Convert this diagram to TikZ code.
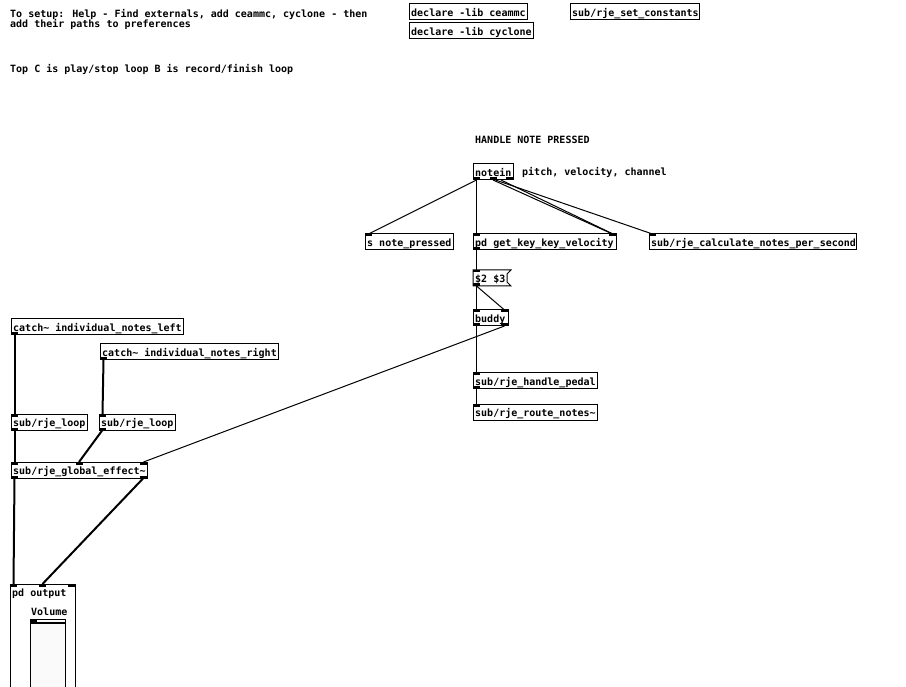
\documentclass[tikz,border=0pt]{standalone}
\usepackage{fontspec}
\newfontfamily\pdfont{DejaVu Sans Mono}
\usetikzlibrary{calc}
\newcommand\pdobject[5]{\node[pdbox, minimum width=#4pt] (#1) at (#2,#3) {};\node[pdtxt] at ($(#1.north west)+(2,12.6)$) {#5};}
\newcommand\pdin[2]{\fill ([xshift=#2pt]#1.north west) rectangle ++(7,2.5);}
\newcommand\pdout[2]{\fill ([xshift=#2pt]#1.south west) rectangle ++(7,-2.5);}
\newcommand\pdcon[5]{\draw[#1] ([xshift=#3pt+3.5pt]#2.south west) -- ([xshift=#5pt+3.5pt]#4.north west);}
\begin{document}
\begin{tikzpicture}[x=1pt,y=-1pt,
  pdbox/.style={draw, line width=1pt, anchor=north west, minimum height=16pt, inner sep=0pt, outer sep=0pt},
  pdtxt/.style={anchor=base west, inner sep=0pt, font=\pdfont\bfseries\fontsize{10}{12}\selectfont},
  ctl/.style={line width=1pt},
  sig/.style={line width=2pt}]
\fill[white] (0,0) rectangle (906,687);
\useasboundingbox (0,0) rectangle (906,687);
\clip (0,0) rectangle (906,687);
% comments
\node[pdtxt] (c1) at (10,17.8) {To setup: Help - Find externals, add ceammc, cyclone - then};
\node[pdtxt] (c2) at (10,28) {add their paths to preferences};
\node[pdtxt] (c3) at (10,72.3) {Top C is play/stop loop B is record/finish loop};
\node[pdtxt] (c4) at (475,143.8) {HANDLE NOTE PRESSED};
\node[pdtxt] (c5) at (522,175.8) {pitch, velocity, channel};
% objects
\pdobject{dc1}{409}{4}{118}{declare -lib ceammc}
\pdobject{dc2}{409}{23}{124}{declare -lib cyclone}
\pdobject{setc}{570}{4}{129}{sub/rje\_set\_constants}
\pdobject{notein}{473}{164}{40}{notein}
\pdout{notein}{0}\pdout{notein}{16.5}\pdout{notein}{33}
\pdobject{snp}{365}{234}{88}{s note\_pressed}
\pdin{snp}{0}
\pdobject{getkey}{473}{234}{143}{pd get\_key\_key\_velocity}
\pdin{getkey}{0}\pdin{getkey}{136}\pdout{getkey}{0}
\pdobject{calc}{649}{234}{207}{sub/rje\_calculate\_notes\_per\_second}
\pdin{calc}{0}
% message box
\node[anchor=north west, minimum width=34pt, minimum height=16pt, inner sep=0pt, outer sep=0pt] (msg) at (473,270) {};
\draw[line width=1pt] (msg.north west) -- ++(38,0) -- ++(-4,4) -- ++(0,8) -- ++(4,4) -- (msg.south west) -- cycle;
\node[pdtxt] at ($(msg.north west)+(2,12.6)$) {\$2 \$3};
\pdin{msg}{0}\pdout{msg}{0}
\pdobject{buddy}{473}{310}{35}{buddy}
\pdin{buddy}{0}\pdin{buddy}{28}\pdout{buddy}{0}\pdout{buddy}{28}
\pdobject{pedal}{473}{373}{124}{sub/rje\_handle\_pedal}
\pdin{pedal}{0}\pdout{pedal}{0}
\pdobject{route}{473}{404}{124}{sub/rje\_route\_notes\textasciitilde}
\pdin{route}{0}
\pdobject{catchL}{11}{319}{172}{catch\textasciitilde{} individual\_notes\_left}
\pdout{catchL}{0}
\pdobject{catchR}{100}{344}{178}{catch\textasciitilde{} individual\_notes\_right}
\pdout{catchR}{0}
\pdobject{loopL}{11}{414}{76}{sub/rje\_loop}
\pdin{loopL}{0}\pdout{loopL}{0}
\pdobject{loopR}{99}{414}{76}{sub/rje\_loop}
\pdin{loopR}{0}\pdout{loopR}{0}
\pdobject{glob}{11}{462}{136}{sub/rje\_global\_effect\textasciitilde}
\pdin{glob}{0}\pdin{glob}{64.5}\pdin{glob}{129}\pdout{glob}{0}\pdout{glob}{129}
% pd output graph-on-parent
\node[pdbox, minimum width=65pt, minimum height=140pt] (out) at (10,584) {};
\node[pdtxt] at ($(out.north west)+(2,12.6)$) {pd output};
\pdin{out}{0}\pdin{out}{29}\pdin{out}{58}
\node[pdtxt] (vlab) at (31,615.5) {Volume};
\node[draw, fill=black!2, line width=1pt, anchor=north west, minimum width=35pt, minimum height=120pt, inner sep=0pt, outer sep=0pt] (vol) at (30,619) {};
\fill (31,620) rectangle (37,623.5);
\fill (31,621.5) rectangle (64.5,623.5);
% connections
\pdcon{ctl}{notein}{0}{snp}{0}
\pdcon{ctl}{notein}{0}{getkey}{0}
\pdcon{ctl}{notein}{16.5}{getkey}{136}
\draw[ctl] ([xshift=28pt]notein.south west) -- ([xshift=140pt]getkey.north west);
\pdcon{ctl}{notein}{19}{calc}{0}
\pdcon{ctl}{getkey}{0}{msg}{0}
\pdcon{ctl}{msg}{0}{buddy}{0}
\pdcon{ctl}{msg}{0}{buddy}{28}
\pdcon{ctl}{buddy}{0}{pedal}{0}
\pdcon{ctl}{buddy}{28}{glob}{129}
\pdcon{ctl}{pedal}{0}{route}{0}
\pdcon{sig}{catchL}{0}{loopL}{0}
\pdcon{sig}{catchR}{0}{loopR}{0}
\pdcon{sig}{loopL}{0}{glob}{0}
\pdcon{sig}{loopR}{0}{glob}{64.5}
\pdcon{sig}{glob}{0}{out}{0}
\pdcon{sig}{glob}{129}{out}{29}
\end{tikzpicture}
\end{document}
